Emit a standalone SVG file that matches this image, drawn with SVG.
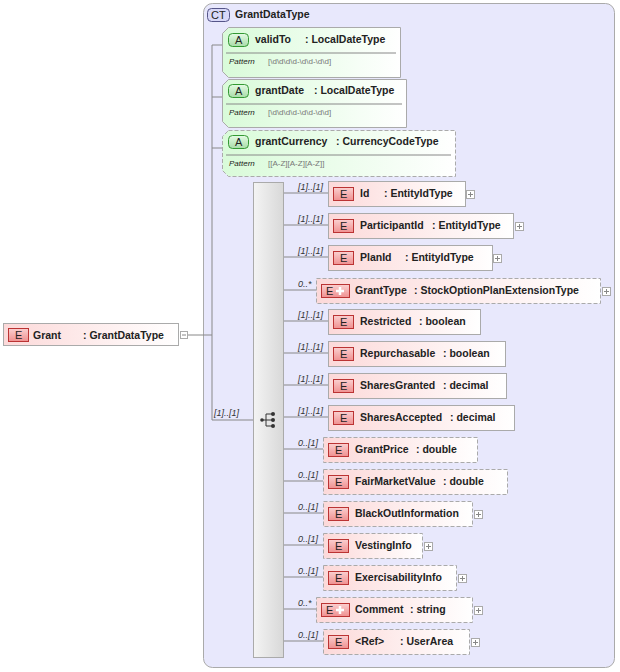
<svg xmlns="http://www.w3.org/2000/svg" width="620" height="672" viewBox="0 0 620 672">
<style>
text{font-family:"Liberation Sans",Arial,sans-serif;font-size:11px;fill:#222}
.b{font-weight:bold;font-size:10.5px}
.c{font-size:9px;font-style:italic;fill:#333}
.p{font-size:8px;font-style:italic;fill:#222}
.pv{font-size:8px;fill:#777}
.el{fill:url(#eg);stroke:#aaa}
.dash{stroke-dasharray:4 2}
.at{fill:url(#ag);stroke:#aaa}
.bdg{fill:url(#bg);stroke:#b33}
.abdg{fill:url(#abg);stroke:#393}
.ln{stroke:#888;fill:none}
.pl{fill:#fff;stroke:#aaa}
</style>
<defs>
<linearGradient id="eg" x1="0" y1="0" x2="1" y2="0"><stop offset="0" stop-color="#fcd9d9"/><stop offset="1" stop-color="#fff"/></linearGradient>
<linearGradient id="ag" x1="0" y1="0" x2="1" y2="0"><stop offset="0" stop-color="#d9fbd9"/><stop offset="1" stop-color="#fff"/></linearGradient>
<linearGradient id="bg" x1="0" y1="0" x2="0" y2="1"><stop offset="0" stop-color="#fbd0d0"/><stop offset="1" stop-color="#ef9090"/></linearGradient>
<linearGradient id="abg" x1="0" y1="0" x2="0" y2="1"><stop offset="0" stop-color="#e4fbe4"/><stop offset="1" stop-color="#a8dca8"/></linearGradient>
<linearGradient id="sg" x1="0" y1="0" x2="1" y2="0"><stop offset="0" stop-color="#f4f4f4"/><stop offset="1" stop-color="#d8d8d8"/></linearGradient>
</defs>
<g id="ct">
<rect x="203.5" y="3.5" width="411" height="664" rx="9" fill="#e8e8fc" stroke="#aaa"/>
<rect x="207.5" y="8.5" width="22" height="13" rx="4" fill="#d8d8f8" stroke="#558"/>
<text x="211" y="19" font-size="10">CT</text>
<text x="235" y="18" class="b">GrantDataType</text>
</g>
<g id="connectors">
<path class="ln" d="M187 335H203M203 335H212M212 45V420M212 45H222M212 97H222M212 148H222M212 420H253"/>
<path class="ln" d="M283 193H328M283 225H328M283 257H328M283 290H316M283 321H328M283 353H328M283 385H328M283 417H328M283 449H323M283 481H323M283 513H323M283 545H323M283 577H323M283 609H316M283 641H323"/>
<text class="c" x="214" y="416">[1]..[1]</text>
</g>
<g id="grant">
<rect x="3.5" y="323.5" width="175" height="22" class="el"/>
<rect x="8.5" y="328.5" width="20" height="13" class="bdg"/><text x="15" y="339" font-size="10">E</text>
<text x="33" y="339" class="b">Grant</text><text x="83" y="339" class="b">: GrantDataType</text>
<rect x="180.5" y="331.5" width="7" height="7" class="pl"/><path class="ln" d="M182 335h4"/>
</g>
<g id="validTo">
<path class="at" d="M228.5 27.5H400.5V77.5H228.5L222.5 71.5V33.5Z"/>
<rect x="228.5" y="33.5" width="20" height="13" rx="4" class="abdg"/><text x="235" y="44" font-size="10">A</text>
<text x="255" y="43" class="b">validTo</text><text x="305" y="43" class="b">: LocalDateType</text>
<path class="ln" d="M226 53H396"/><text class="p" x="229" y="64">Pattern</text><text class="pv" x="268" y="64">[\d\d\d\d-\d\d-\d\d]</text>
</g>
<g id="grantDate">
<path class="at" d="M228.5 79.5H406.5V127.5H228.5L222.5 121.5V85.5Z"/>
<rect x="228.5" y="84.5" width="20" height="13" rx="4" class="abdg"/><text x="235" y="95" font-size="10">A</text>
<text x="255" y="94" class="b">grantDate</text><text x="314" y="94" class="b">: LocalDateType</text>
<path class="ln" d="M226 104H402"/><text class="p" x="229" y="115">Pattern</text><text class="pv" x="268" y="115">[\d\d\d\d-\d\d-\d\d]</text>
</g>
<g id="grantCurrency">
<path class="at dash" d="M228.5 130.5H455.5V176.5H228.5L222.5 170.5V136.5Z"/>
<rect x="228.5" y="135.5" width="20" height="13" rx="4" class="abdg"/><text x="235" y="146" font-size="10">A</text>
<text x="255" y="145" class="b">grantCurrency</text><text x="336" y="145" class="b">: CurrencyCodeType</text>
<path class="ln" d="M226 155H451"/><text class="p" x="229" y="166">Pattern</text><text class="pv" x="268" y="166">[[A-Z][A-Z][A-Z]]</text>
</g>
<g id="sequence">
<rect x="253.5" y="182.5" width="30" height="475" fill="url(#sg)" stroke="#aaa"/>
<path d="M261 420H266M266 414V426M266 414H272M266 420H272M266 426H272" stroke="#333" fill="none"/>
<circle cx="262" cy="420" r="1.8" fill="#333"/><circle cx="273" cy="414" r="2" fill="#333"/><circle cx="273" cy="420" r="2" fill="#333"/><circle cx="273" cy="426" r="2" fill="#333"/>
</g>
<g id="Id"><text class="c" x="298" y="190">[1]..[1]</text><rect x="328.5" y="181.5" width="137" height="25" class="el"/><rect x="333.5" y="187.5" width="20" height="13" class="bdg"/><text x="340" y="198" font-size="10">E</text><text x="360" y="197" class="b">Id</text><text x="384" y="197" class="b">: EntityIdType</text><rect x="466.5" y="190.5" width="8" height="8" class="pl"/><path class="ln" d="M468 194.5h5M470.5 192v5"/></g>
<g id="ParticipantId"><text class="c" x="298" y="222">[1]..[1]</text><rect x="328.5" y="213.5" width="185" height="25" class="el"/><rect x="333.5" y="219.5" width="20" height="13" class="bdg"/><text x="340" y="230" font-size="10">E</text><text x="360" y="229" class="b">ParticipantId</text><text x="432" y="229" class="b">: EntityIdType</text><rect x="515.5" y="222.5" width="8" height="8" class="pl"/><path class="ln" d="M517 226.5h5M519.5 224v5"/></g>
<g id="PlanId"><text class="c" x="298" y="254">[1]..[1]</text><rect x="328.5" y="245.5" width="164" height="25" class="el"/><rect x="333.5" y="251.5" width="20" height="13" class="bdg"/><text x="340" y="262" font-size="10">E</text><text x="360" y="261" class="b">PlanId</text><text x="405" y="261" class="b">: EntityIdType</text><rect x="493.5" y="254.5" width="8" height="8" class="pl"/><path class="ln" d="M495 258.5h5M497.5 256v5"/></g>
<g id="GrantType"><text class="c" x="298" y="287">0..*</text><rect x="316.5" y="278.5" width="284" height="25" class="el dash"/><rect x="321.5" y="284.5" width="28" height="13" class="bdg"/><text x="326" y="295" font-size="10">E</text><path d="M336 291h8M340 287v8" stroke="#fff" stroke-width="2.5"/><text x="355" y="294" class="b">GrantType</text><text x="414" y="294" class="b">: StockOptionPlanExtensionType</text><rect x="602.5" y="287.5" width="8" height="8" class="pl"/><path class="ln" d="M604 291.5h5M606.5 289v5"/></g>
<g id="Restricted"><text class="c" x="298" y="318">[1]..[1]</text><rect x="328.5" y="309.5" width="152" height="25" class="el"/><rect x="333.5" y="315.5" width="20" height="13" class="bdg"/><text x="340" y="326" font-size="10">E</text><text x="360" y="325" class="b">Restricted</text><text x="419" y="325" class="b">: boolean</text></g>
<g id="Repurchasable"><text class="c" x="298" y="350">[1]..[1]</text><rect x="328.5" y="341.5" width="177" height="25" class="el"/><rect x="333.5" y="347.5" width="20" height="13" class="bdg"/><text x="340" y="358" font-size="10">E</text><text x="360" y="357" class="b">Repurchasable</text><text x="443" y="357" class="b">: boolean</text></g>
<g id="SharesGranted"><text class="c" x="298" y="382">[1]..[1]</text><rect x="328.5" y="373.5" width="178" height="25" class="el"/><rect x="333.5" y="379.5" width="20" height="13" class="bdg"/><text x="340" y="390" font-size="10">E</text><text x="360" y="389" class="b">SharesGranted</text><text x="443" y="389" class="b">: decimal</text></g>
<g id="SharesAccepted"><text class="c" x="298" y="414">[1]..[1]</text><rect x="328.5" y="405.5" width="186" height="25" class="el"/><rect x="333.5" y="411.5" width="20" height="13" class="bdg"/><text x="340" y="422" font-size="10">E</text><text x="360" y="421" class="b">SharesAccepted</text><text x="450" y="421" class="b">: decimal</text></g>
<g id="GrantPrice"><text class="c" x="298" y="446">0..[1]</text><rect x="323.5" y="437.5" width="154" height="25" class="el dash"/><rect x="328.5" y="443.5" width="20" height="13" class="bdg"/><text x="335" y="454" font-size="10">E</text><text x="355" y="453" class="b">GrantPrice</text><text x="416" y="453" class="b">: double</text></g>
<g id="FairMarketValue"><text class="c" x="298" y="478">0..[1]</text><rect x="323.5" y="469.5" width="184" height="25" class="el dash"/><rect x="328.5" y="475.5" width="20" height="13" class="bdg"/><text x="335" y="486" font-size="10">E</text><text x="355" y="485" class="b">FairMarketValue</text><text x="443" y="485" class="b">: double</text></g>
<g id="BlackOutInformation"><text class="c" x="298" y="510">0..[1]</text><rect x="323.5" y="501.5" width="149" height="25" class="el dash"/><rect x="328.5" y="507.5" width="20" height="13" class="bdg"/><text x="335" y="518" font-size="10">E</text><text x="355" y="517" class="b">BlackOutInformation</text><rect x="474.5" y="510.5" width="8" height="8" class="pl"/><path class="ln" d="M476 514.5h5M478.5 512v5"/></g>
<g id="VestingInfo"><text class="c" x="298" y="542">0..[1]</text><rect x="323.5" y="533.5" width="99" height="25" class="el dash"/><rect x="328.5" y="539.5" width="20" height="13" class="bdg"/><text x="335" y="550" font-size="10">E</text><text x="355" y="549" class="b">VestingInfo</text><rect x="424.5" y="542.5" width="8" height="8" class="pl"/><path class="ln" d="M426 546.5h5M428.5 544v5"/></g>
<g id="ExercisabilityInfo"><text class="c" x="298" y="574">0..[1]</text><rect x="323.5" y="565.5" width="133" height="25" class="el dash"/><rect x="328.5" y="571.5" width="20" height="13" class="bdg"/><text x="335" y="582" font-size="10">E</text><text x="355" y="581" class="b">ExercisabilityInfo</text><rect x="458.5" y="574.5" width="8" height="8" class="pl"/><path class="ln" d="M460 578.5h5M462.5 576v5"/></g>
<g id="Comment"><text class="c" x="298" y="606">0..*</text><rect x="316.5" y="597.5" width="156" height="25" class="el dash"/><rect x="321.5" y="603.5" width="28" height="13" class="bdg"/><text x="326" y="614" font-size="10">E</text><path d="M336 610h8M340 606v8" stroke="#fff" stroke-width="2.5"/><text x="355" y="613" class="b">Comment</text><text x="410" y="613" class="b">: string</text><rect x="474.5" y="606.5" width="8" height="8" class="pl"/><path class="ln" d="M476 610.5h5M478.5 608v5"/></g>
<g id="UserArea"><text class="c" x="298" y="638">0..[1]</text><rect x="323.5" y="629.5" width="146" height="25" class="el dash"/><rect x="328.5" y="635.5" width="20" height="13" class="bdg"/><text x="335" y="646" font-size="10">E</text><text x="355" y="645" class="b">&lt;Ref&gt;</text><text x="400" y="645" class="b">: UserArea</text><rect x="471.5" y="638.5" width="8" height="8" class="pl"/><path class="ln" d="M473 642.5h5M475.5 640v5"/></g>
</svg>
